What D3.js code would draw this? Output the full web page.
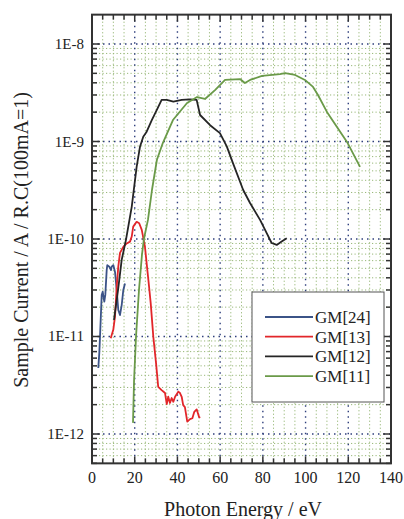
<!DOCTYPE html>
<html>
<head>
<meta charset="utf-8">
<script src="https://cdn.jsdelivr.net/npm/d3@7/dist/d3.min.js"></script>
<style>
  body { margin: 0; background: #fff; }
  svg text { font-family: 'Liberation Serif', 'DejaVu Serif', serif; fill: #222; }
</style>
</head>
<body>
<svg id="chart" width="404" height="519"></svg>
<script>
// ---- data ----
const seriesNames = ['GM[24]', 'GM[13]', 'GM[12]', 'GM[11]'];
const seriesColors = ['#3b5387', '#e2262a', '#252525', '#6a9a48'];

const xTickValues = [0, 20, 40, 60, 80, 100, 120, 140];
const yTickValues = [1e-12, 1e-11, 1e-10, 1e-9, 1e-8];
const yTickLabels = ['1E-12', '1E-11', '1E-10', '1E-9', '1E-8'];

// [photon energy eV, sample current]
const gm24 = [[2.95,4.75e-12],[3.42,6.8e-12],[3.75,9.96e-12],[4.54,2.67e-11],[5.0,2.88e-11],
  [5.76,2.28e-11],[6.23,2.67e-11],[6.88,4.8e-11],[7.16,5.4e-11],[8.1,5.2e-11],[8.9,4.8e-11],
  [9.22,5.2e-11],[9.97,5.4e-11],[10.77,4.6e-11],[11.57,3.0e-11],[12.31,1.87e-11],[13.1,1.66e-11],
  [13.9,2.1e-11],[14.66,3.0e-11],[15.45,3.5e-11]];

const gm13 = [[8.76,9.6e-12],[9.97,1.17e-11],[10.77,1.6e-11],[11.57,3.24e-11],[12.31,5.2e-11],
  [13.1,7.2e-11],[14.66,8.3e-11],[16.25,9.0e-11],[17.8,9.4e-11],[18.6,1.06e-10],[19.3,1.34e-10],
  [20.9,1.5e-10],[22.1,1.45e-10],[23.3,1.24e-10],[24.8,8.3e-11],[25.6,5.6e-11],[26.4,3.8e-11],
  [27.5,2.19e-11],[28.7,9.96e-12],[30.0,5.3e-12],[31.0,3.05e-12],[32.6,2.82e-12],[34.2,2.63e-12],
  [35.0,2.03e-12],[35.7,2.41e-12],[36.5,2.08e-12],[37.3,2.34e-12],[38.1,2.14e-12],[38.9,2.41e-12],
  [40.4,2.72e-12],[41.2,2.63e-12],[42.0,2.41e-12],[42.7,1.98e-12],[43.5,1.89e-12],[44.6,1.34e-12],
  [45.9,1.42e-12],[47.0,1.45e-12],[47.9,1.69e-12],[49.0,1.79e-12],[50.1,1.5e-12],[50.6,1.46e-12]];

const gm12 = [[10.3,1.48e-11],[12.2,3.0e-11],[13.9,6.1e-11],[15.9,9.8e-11],[18.6,2.14e-10],
  [20.9,5.5e-10],[22.5,8.9e-10],[24.0,1.12e-9],[25.6,1.26e-9],[28.0,1.66e-9],[30.3,2.1e-9],
  [32.6,2.67e-9],[35.0,2.67e-9],[38.1,2.56e-9],[42.0,2.67e-9],[45.9,2.71e-9],[49.0,2.67e-9],
  [50.6,1.87e-9],[55.3,1.47e-9],[59.9,1.22e-9],[63.1,8.9e-10],[66.0,6.0e-10],[70.8,3.18e-10],
  [74.0,2.34e-10],[78.7,1.57e-10],[81.8,1.15e-10],[84.1,9.1e-11],[86.5,8.7e-11],[88.8,9.4e-11],
  [91.2,1.02e-10]];

const gm11 = [[19.2,1.3e-12],[19.7,3.58e-12],[20.6,9.9e-12],[22.0,3.0e-11],[23.4,6.9e-11],
  [24.3,1.0e-10],[26.2,1.57e-10],[28.1,3.2e-10],[30.4,6.5e-10],[33.2,9.7e-10],[37.9,1.66e-9],
  [44.5,2.48e-9],[49.2,2.86e-9],[52.9,2.73e-9],[57.6,3.37e-9],[62.3,4.28e-9],[69.3,4.37e-9],
  [71.6,3.98e-9],[74.0,4.28e-9],[79.6,4.7e-9],[88.0,4.92e-9],[90.4,5.04e-9],[95.1,4.81e-9],
  [99.7,4.28e-9],[103.5,3.63e-9],[105.8,3.0e-9],[110.0,2.01e-9],[114.7,1.41e-9],[119.4,9.9e-10],
  [125.5,5.5e-10]];

const allSeries = [gm24, gm13, gm12, gm11];

// ---- layout ----
const svg = d3.select('#chart');
const plot = { left: 92, right: 391, top: 14.65, bottom: 463.35 };
const serif = "'Liberation Serif', 'DejaVu Serif', serif";

const xScale = d3.scaleLinear().domain([0, 140]).range([plot.left, plot.right]);
const yScale = d3.scaleLog().domain([5e-13, 2e-8]).range([plot.bottom, plot.top]);

// minor positions
const xMinor = d3.range(0, 141, 5).filter(v => v % 20 !== 0);
const yMinor = [];
for (let e = -13; e <= -8; e++) {
  for (let k = 2; k <= 9; k++) {
    const v = k * Math.pow(10, e);
    if (v > 5e-13 * 0.999 && v < 2e-8 * 0.999) yMinor.push(v);
  }
}
const xMajorInner = xTickValues.filter(v => v > 0 && v < 140);

const grid = svg.append('g');
// green dotted minor grid
grid.selectAll('.gx').data(xMinor).enter().append('line')
  .attr('x1', d => xScale(d)).attr('x2', d => xScale(d))
  .attr('y1', plot.top).attr('y2', plot.bottom)
  .attr('stroke', '#98b878').attr('stroke-width', 1).attr('stroke-dasharray', '1.2,2.3');
grid.selectAll('.gy').data(yMinor).enter().append('line')
  .attr('y1', d => yScale(d)).attr('y2', d => yScale(d))
  .attr('x1', plot.left).attr('x2', plot.right)
  .attr('stroke', '#98b878').attr('stroke-width', 1).attr('stroke-dasharray', '1.2,2.3');
// blue dotted major grid
grid.selectAll('.bx').data(xMajorInner).enter().append('line')
  .attr('x1', d => xScale(d)).attr('x2', d => xScale(d))
  .attr('y1', plot.top).attr('y2', plot.bottom)
  .attr('stroke', '#2f3f7c').attr('stroke-width', 1.4).attr('stroke-dasharray', '1.5,4');
grid.selectAll('.by').data(yTickValues).enter().append('line')
  .attr('y1', d => yScale(d)).attr('y2', d => yScale(d))
  .attr('x1', plot.left).attr('x2', plot.right)
  .attr('stroke', '#2f3f7c').attr('stroke-width', 1.4).attr('stroke-dasharray', '1.5,4');

// ---- series ----
const line = d3.line().x(d => xScale(d[0])).y(d => yScale(d[1]));
svg.append('g').selectAll('path').data(allSeries).enter().append('path')
  .attr('d', line)
  .attr('fill', 'none')
  .attr('stroke', (d, i) => seriesColors[i])
  .attr('stroke-width', 1.8)
  .attr('stroke-linejoin', 'round');

// ---- axes (ticks pointing inward) ----
const tickColor = '#333';
const axes = svg.append('g');
const xAllTicks = d3.range(0, 141, 5);
[plot.bottom, plot.top].forEach((yy, side) => {
  const dir = side === 0 ? -1 : 1;
  axes.append('g').selectAll('line').data(xAllTicks).enter().append('line')
    .attr('x1', d => xScale(d)).attr('x2', d => xScale(d))
    .attr('y1', yy).attr('y2', d => yy + dir * (d % 20 === 0 ? 7 : 5))
    .attr('stroke', tickColor).attr('stroke-width', 1.5);
});
[plot.left, plot.right].forEach((xx, side) => {
  const dir = side === 0 ? 1 : -1;
  axes.append('g').selectAll('line').data(yMinor.concat(yTickValues)).enter().append('line')
    .attr('y1', d => yScale(d)).attr('y2', d => yScale(d))
    .attr('x1', xx).attr('x2', d => xx + dir * (yTickValues.includes(d) ? 8 : 5))
    .attr('stroke', tickColor).attr('stroke-width', 1.5);
});
axes.append('rect')
  .attr('x', plot.left).attr('y', plot.top)
  .attr('width', plot.right - plot.left).attr('height', plot.bottom - plot.top)
  .attr('fill', 'none').attr('stroke', '#333').attr('stroke-width', 2);

// tick labels
svg.append('g').selectAll('text').data(xTickValues).enter().append('text')
  .attr('x', d => xScale(d)).attr('y', 483)
  .attr('text-anchor', 'middle').attr('font-family', serif).attr('font-size', 16)
  .text(d => d);
svg.append('g').selectAll('text').data(yTickValues).enter().append('text')
  .attr('x', 84).attr('y', d => yScale(d) + 5)
  .attr('text-anchor', 'end').attr('font-family', serif).attr('font-size', 15)
  .text((d, i) => yTickLabels[i]);

// axis titles
svg.append('text')
  .attr('x', 243).attr('y', 516)
  .attr('text-anchor', 'middle').attr('font-family', serif).attr('font-size', 20)
  .text('Photon Energy / eV');
svg.append('text')
  .attr('transform', 'translate(28,240) rotate(-90)')
  .attr('text-anchor', 'middle').attr('font-family', serif).attr('font-size', 20)
  .text('Sample Current / A / R.C(100mA=1)');

// ---- legend ----
const legend = svg.append('g').attr('transform', 'translate(252,292)');
legend.append('rect').attr('width', 132).attr('height', 110)
  .attr('fill', '#fff').attr('stroke', '#555').attr('stroke-width', 1);
const items = legend.selectAll('g.item').data(seriesNames).enter().append('g')
  .attr('transform', (d, i) => `translate(0,${25 + i * 19.7})`);
items.append('line').attr('x1', 13).attr('x2', 61).attr('y1', 0).attr('y2', 0)
  .attr('stroke', (d, i) => seriesColors[i]).attr('stroke-width', 1.8);
items.append('text').attr('x', 63).attr('y', 6)
  .attr('font-family', serif).attr('font-size', 17)
  .text(d => d);
</script>
</body>
</html>
